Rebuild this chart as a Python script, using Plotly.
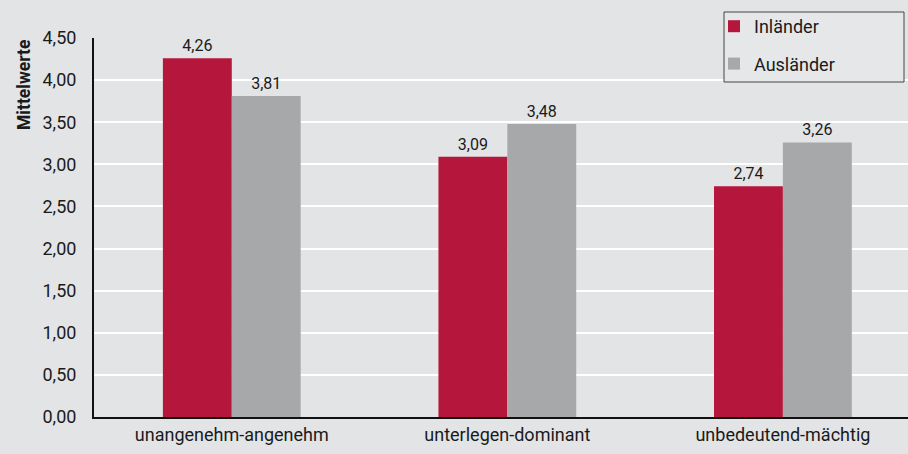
import plotly.graph_objects as go

categories = ["unangenehm-angenehm", "unterlegen-dominant", "unbedeutend-mächtig"]
inlaender = [4.26, 3.09, 2.74]
auslaender = [3.81, 3.48, 3.26]
y_ticks = [0, 0.5, 1.0, 1.5, 2.0, 2.5, 3.0, 3.5, 4.0, 4.5]
y_tick_labels = ["0,00", "0,50", "1,00", "1,50", "2,00", "2,50", "3,00", "3,50", "4,00", "4,50"]

FONT = "Roboto, Arial"
RED = "#b5163c"
GREY = "#a7a8aa"
BG = "#e3e4e6"

W, H = 908, 454
M_L, M_R, M_T, M_B = 94, 0, 38, 37
PW, PH = W - M_L - M_R, H - M_T - M_B


def fmt(v):
    return f"{v:.2f}".replace(".", ",")


def px_x(x):
    return (x - M_L) / PW


def px_y(y):
    return (H - M_B - y) / PH


fig = go.Figure()
fig.add_trace(go.Bar(
    name="Inländer", x=categories, y=inlaender, legendgroup="a",
    marker=dict(color=RED, line=dict(width=0)),
    text=[fmt(v) for v in inlaender], textposition="outside", cliponaxis=False,
    textfont=dict(family=FONT, size=16, color="#1a1a1a"),
))
fig.add_trace(go.Bar(
    name="Ausländer", x=categories, y=auslaender, legendgroup="b",
    marker=dict(color=GREY, line=dict(width=0)),
    text=[fmt(v) for v in auslaender], textposition="outside", cliponaxis=False,
    textfont=dict(family=FONT, size=16, color="#1a1a1a"),
))

fig.update_layout(
    width=W, height=H,
    margin=dict(l=M_L, r=M_R, t=M_T, b=M_B, autoexpand=False),
    paper_bgcolor=BG, plot_bgcolor=BG,
    barmode="group", bargap=0.5, bargroupgap=0,
    font=dict(family=FONT, size=16, color="#1a1a1a"),
    showlegend=True,
    legend=dict(
        xref="container", yref="container",
        x=714 / W, y=1 - 8 / H, xanchor="left", yanchor="top",
        bgcolor="rgba(0,0,0,0)", borderwidth=0,
        font=dict(family=FONT, size=18, color="#1a1a1a"),
        itemwidth=30, tracegroupgap=11,
    ),
    xaxis=dict(
        range=[-0.5, 2.454], showgrid=False, showline=True, linecolor="#111111", linewidth=2,
        ticks="", tickfont=dict(family=FONT, size=18, color="#1a1a1a"),
    ),
    yaxis=dict(
        range=[0, 4.5], tickvals=y_ticks, ticktext=y_tick_labels,
        showgrid=True, gridcolor="#ffffff", gridwidth=2,
        showline=True, linecolor="#111111", linewidth=2, zeroline=False,
        ticks="", ticklabelstandoff=12, tickfont=dict(family=FONT, size=18, color="#1a1a1a"),
    ),
    shapes=[dict(
        type="rect", xref="paper", yref="paper", layer="above",
        x0=px_x(724), x1=px_x(904), y0=px_y(82), y1=px_y(12),
        fillcolor="#e6e7e8", line=dict(color="#444444", width=1),
    )],
    annotations=[dict(
        text="<b>Mittelwerte</b>", textangle=-90, xref="paper", yref="paper",
        x=-0.086, y=1.0, xanchor="center", yanchor="top", showarrow=False,
        font=dict(family=FONT, size=17.5, color="#1a1a1a"),
    )],
)

fig.write_html("out.html")
